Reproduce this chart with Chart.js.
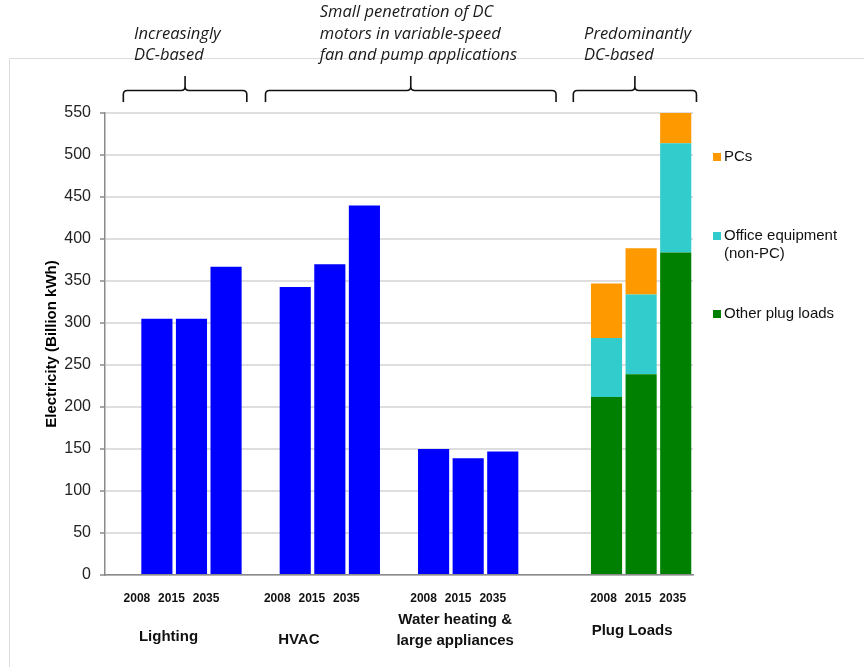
<!DOCTYPE html>
<html>
<head>
<meta charset="utf-8">
<script src="https://cdn.jsdelivr.net/npm/chart.js@4.4.1/dist/chart.umd.min.js"></script>
<style>
  html, body { margin: 0; padding: 0; background: #ffffff; }
  #wrap { position: relative; width: 864px; height: 667px; overflow: hidden; }
  canvas { display: block; }
</style>
</head>
<body>
<div id="wrap"><canvas id="chart" width="864" height="667"></canvas></div>
<script>
// Commercial-building electricity use by end use (billion kWh)
const years = ['2008', '2015', '2035'];
const groupNames = ['Lighting', 'HVAC', ['Water heating &', 'large appliances'], 'Plug Loads'];

const lighting = [305, 305, 367];
const hvac = [343, 370, 440];
const waterHeating = [150, 139, 147];

// Plug loads, split by type
const otherPlugLoads = [212, 239, 384];
const officeEquipment = [70, 95, 130];
const pcs = [65, 55, 36];

const yTicks = [0, 50, 100, 150, 200, 250, 300, 350, 400, 450, 500, 550];

// Notes written above the groups
const noteLines = [
  ['Increasingly', 'DC-based'],
  ['Small penetration of DC', 'motors in variable-speed', 'fan and pump applications'],
  ['Predominantly', 'DC-based']
];

// ---- layout: category slots (empty slots leave gaps between groups) ----
const slotCount = 17;
const groupStart = [1, 5, 9, 14];
const yearShift = [-20, -18, -10, -3];                 // year label nudge per group (px)
const groupLabelPos = [[-23, 637], [-31, 640], [-13, 620], [-9, 631]]; // dx from middle bar, y middle
const braceSpans = [[0.53, 4.10], [4.64, 13.04], [13.54, 17.10]];    // in slot widths
const noteAnchor = [0.84, 6.21, 13.85];                // left edge of notes, in slot widths

const slotLabels = Array.from({length: slotCount}, () => '');
groupStart.forEach(s => years.forEach((yr, k) => { slotLabels[s + k] = yr; }));

function place(values, group) {
  const arr = Array.from({length: slotCount}, () => null);
  values.forEach((v, k) => { arr[groupStart[group] + k] = v; });
  return arr;
}
function merge(...arrs) {
  return Array.from({length: slotCount}, (_, i) => {
    for (const a of arrs) if (a[i] !== null) return a[i];
    return null;
  });
}

const BLUE = '#0000FF', GREEN = '#008000', CYAN = '#33CCCC', ORANGE = '#FF9900';
const FONT = "'Liberation Sans', Arial, Helvetica, sans-serif";

const datasets = [
  { label: 'End-use total', data: merge(place(lighting, 0), place(hvac, 1), place(waterHeating, 2)),
    backgroundColor: BLUE, inLegend: false },
  { label: 'Other plug loads', data: place(otherPlugLoads, 3), backgroundColor: GREEN, inLegend: true },
  { label: ['Office equipment', '(non-PC)'], data: place(officeEquipment, 3), backgroundColor: CYAN, inLegend: true },
  { label: 'PCs', data: place(pcs, 3), backgroundColor: ORANGE, inLegend: true }
];

const legendRows = [156.5, 236, 313.5]; // PCs, Office, Other (top to bottom)

const decorations = {
  id: 'decorations',
  beforeDraw(chart) {
    const ctx = chart.ctx;
    ctx.save();
    ctx.strokeStyle = '#dcdcdc';
    ctx.lineWidth = 1;
    ctx.beginPath();
    ctx.moveTo(9.5, 667);
    ctx.lineTo(9.5, 58.5);
    ctx.lineTo(864, 58.5);
    ctx.stroke();
    ctx.restore();
  },
  afterDraw(chart) {
    const {ctx, chartArea, scales: {x}} = chart;
    const slot = (chartArea.right - chartArea.left) / slotCount;
    const at = f => chartArea.left + f * slot;
    ctx.save();

    // curly braces over the groups
    ctx.strokeStyle = '#111';
    ctx.lineWidth = 1.6;
    const yb = 102, yh = 90.5, ytip = 76, r = 4;
    braceSpans.forEach(([a, b]) => {
      const x0 = at(a), x1 = at(b), xc = (x0 + x1) / 2;
      ctx.beginPath();
      ctx.moveTo(x0, yb);
      ctx.lineTo(x0, yh + r);
      ctx.quadraticCurveTo(x0, yh, x0 + r, yh);
      ctx.lineTo(xc - r, yh);
      ctx.quadraticCurveTo(xc, yh, xc, yh - r);
      ctx.lineTo(xc, ytip);
      ctx.moveTo(xc, yh - r);
      ctx.quadraticCurveTo(xc, yh, xc + r, yh);
      ctx.lineTo(x1 - r, yh);
      ctx.quadraticCurveTo(x1, yh, x1, yh + r);
      ctx.lineTo(x1, yb);
      ctx.stroke();
    });

    // italic notes
    ctx.fillStyle = '#1a1a1a';
    ctx.font = "italic 16.5px 'Open Sans', 'Noto Sans', sans-serif";
    ctx.textAlign = 'left';
    ctx.textBaseline = 'alphabetic';
    noteLines.forEach((lines, i) => {
      const lastBase = 60;
      lines.forEach((t, k) => {
        ctx.fillText(t, at(noteAnchor[i]), lastBase - (lines.length - 1 - k) * 21.5);
      });
    });

    // year labels under the bars
    ctx.fillStyle = '#111';
    ctx.font = 'bold 12px ' + FONT;
    ctx.textAlign = 'center';
    ctx.textBaseline = 'middle';
    groupStart.forEach((s, g) => {
      years.forEach((yr, k) => {
        ctx.fillText(yr, x.getPixelForValue(s + k) + yearShift[g], 599);
      });
    });

    // group names
    ctx.font = 'bold 15px ' + FONT;
    groupNames.forEach((name, g) => {
      const cx = x.getPixelForValue(groupStart[g] + 1) + groupLabelPos[g][0];
      const lines = Array.isArray(name) ? name : [name];
      lines.forEach((t, k) => ctx.fillText(t, cx, groupLabelPos[g][1] + k * 21));
    });

    // legend (plug-load components, top of stack first)
    ctx.font = '15px ' + FONT;
    ctx.textAlign = 'left';
    const legendSets = chart.data.datasets.filter(d => d.inLegend).reverse();
    legendSets.forEach((d, i) => {
      const yc = legendRows[i];
      ctx.fillStyle = d.backgroundColor;
      ctx.fillRect(713, Math.round(yc - 4), 8, 8);
      ctx.fillStyle = '#111';
      const lines = Array.isArray(d.label) ? d.label : [d.label];
      lines.forEach((t, k) => ctx.fillText(t, 724, yc + k * 17.5));
    });

    ctx.restore();
  }
};

new Chart(document.getElementById('chart'), {
  type: 'bar',
  data: { labels: slotLabels, datasets },
  options: {
    responsive: false,
    animation: false,
    devicePixelRatio: 1,
    layout: { padding: { top: 113, right: 171, bottom: 0, left: 0 } },
    plugins: { legend: { display: false }, tooltip: { enabled: false } },
    datasets: { bar: { barPercentage: 0.9, categoryPercentage: 1.0 } },
    scales: {
      x: {
        stacked: true,
        grid: { display: false },
        border: { display: true, color: '#8a8a8a', width: 1.5 },
        ticks: { display: false },
        afterFit(scale) { scale.height = 92; }
      },
      y: {
        stacked: true,
        min: 0,
        max: 550,
        afterBuildTicks(scale) { scale.ticks = yTicks.map(v => ({ value: v })); },
        ticks: { color: '#222', padding: 9, font: { family: FONT, size: 16 } },
        grid: { color: '#dedede', lineWidth: 2, tickLength: 5, tickColor: '#8a8a8a', tickWidth: 1.5 },
        border: { display: true, color: '#8a8a8a', width: 1.5 },
        title: {
          display: true,
          text: 'Electricity (Billion kWh)',
          color: '#000',
          font: { family: FONT, size: 15, weight: 'bold' },
          padding: { top: 43, bottom: 0 }
        },
        afterFit(scale) { scale.width = 105; }
      }
    }
  },
  plugins: [decorations]
});
</script>
</body>
</html>
